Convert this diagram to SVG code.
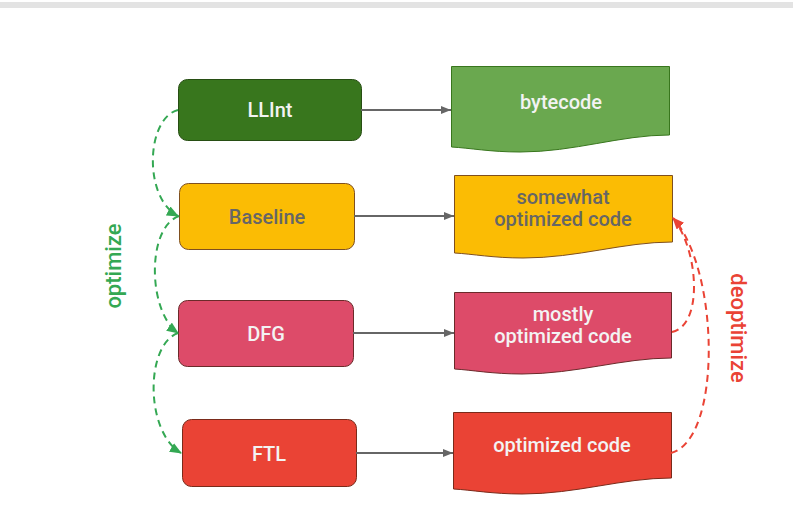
<svg xmlns="http://www.w3.org/2000/svg" width="793" height="518" viewBox="0 0 793 518">
  <style>
    .box { stroke-width: 1; }
    .lbl { font-family: Roboto, "Liberation Sans", sans-serif; font-weight: 500; font-size: 20px; text-anchor: middle; }
    .light { fill: #f3f3f3; }
    .dark { fill: #666666; }
    .flow { stroke: #666666; stroke-width: 2; fill: none; marker-end: url(#gray-head); }
    .up { stroke: #34a853; stroke-width: 2; stroke-dasharray: 7 5; fill: none; marker-end: url(#green-head); }
    .down { stroke: #ea4335; stroke-width: 2; stroke-dasharray: 7 5; fill: none; }
    .side { font-family: Roboto, "Liberation Sans", sans-serif; font-weight: 500; font-size: 22px; text-anchor: middle; }
  </style>
  <defs>
    <marker id="gray-head" markerWidth="10" markerHeight="8" refX="10" refY="4" orient="auto" markerUnits="userSpaceOnUse">
      <path d="M0,0 L10,4 L0,8 z" fill="#666666"/>
    </marker>
    <marker id="green-head" markerWidth="12" markerHeight="10" refX="11" refY="5" orient="auto" markerUnits="userSpaceOnUse">
      <path d="M0,0 L12,5 L0,10 z" fill="#34a853"/>
    </marker>
    <marker id="red-head" markerWidth="12" markerHeight="10" refX="11" refY="5" orient="auto" markerUnits="userSpaceOnUse">
      <path d="M0,0 L12,5 L0,10 z" fill="#ea4335"/>
    </marker>
  </defs>

  <rect x="0" y="2" width="793" height="6" fill="#e3e3e3"/>

  <!-- tiers -->
  <g id="llint">
    <rect class="box" x="178.5" y="79.5" width="183" height="61" rx="9" fill="#38761d" stroke="#274e13"/>
    <text class="lbl light" x="270" y="117">LLInt</text>
  </g>
  <g id="baseline">
    <rect class="box" x="179.5" y="183.5" width="175" height="66" rx="9" fill="#fbbc04" stroke="#7f4f1f"/>
    <text class="lbl dark" x="267" y="224">Baseline</text>
  </g>
  <g id="dfg">
    <rect class="box" x="178.5" y="300.5" width="175" height="66" rx="9" fill="#dd4b69" stroke="#6b2a2a"/>
    <text class="lbl light" x="266" y="341">DFG</text>
  </g>
  <g id="ftl">
    <rect class="box" x="182.5" y="419.5" width="174" height="67" rx="9" fill="#ea4335" stroke="#7a2a1a"/>
    <text class="lbl light" x="269" y="461">FTL</text>
  </g>

  <!-- code documents -->
  <g id="bytecode">
    <path class="box" d="M451.5,66.5 H669.5 V135 C620,135 575,152 520,152 C490,152 470,148 451.5,147 Z" fill="#6aa84f" stroke="#38761d"/>
    <text class="lbl light" x="561" y="109">bytecode</text>
  </g>
  <g id="somewhat-optimized">
    <path class="box" d="M454.5,175.5 H672.5 V242 C623,242 578,258 523,258 C493,258 473,254 454.5,253 Z" fill="#fbbc04" stroke="#7f4f1f"/>
    <text class="lbl dark" x="563" y="204">somewhat</text>
    <text class="lbl dark" x="563" y="226">optimized code</text>
  </g>
  <g id="mostly-optimized">
    <path class="box" d="M454.5,292.5 H671.5 V358 C622,358 577,374 522,374 C492,374 472,370 454.5,369 Z" fill="#dd4b69" stroke="#6b2a2a"/>
    <text class="lbl light" x="563" y="321">mostly</text>
    <text class="lbl light" x="563" y="343">optimized code</text>
  </g>
  <g id="optimized">
    <path class="box" d="M453.5,412.5 H671.5 V478 C622,478 577,494 522,494 C492,494 472,490 453.5,489 Z" fill="#ea4335" stroke="#7a2a1a"/>
    <text class="lbl light" x="562" y="452">optimized code</text>
  </g>

  <!-- connectors -->
  <g id="connectors">
    <line class="flow" x1="361" y1="110" x2="451" y2="110"/>
    <line class="flow" x1="354" y1="216" x2="454" y2="216"/>
    <line class="flow" x1="353" y1="333" x2="454" y2="333"/>
    <line class="flow" x1="356" y1="453" x2="453" y2="453"/>

    <path class="up" d="M178,110 C146,118 143,198 178,216"/>
    <path class="up" d="M179,216 C146,228 148,312 178,333"/>
    <path class="up" d="M178,333 C145,345 145,432 181,453"/>

    <path class="down" d="M672,332 C702,326 700,255 674,219"/>
    <path class="down" d="M671,453 C722,440 720,270 673,218" marker-end="url(#red-head)"/>
  </g>

  <text class="side" fill="#34a853" transform="translate(121,266) rotate(-90)">optimize</text>
  <text class="side" fill="#ea4335" transform="translate(731,328) rotate(90)">deoptimize</text>
</svg>
